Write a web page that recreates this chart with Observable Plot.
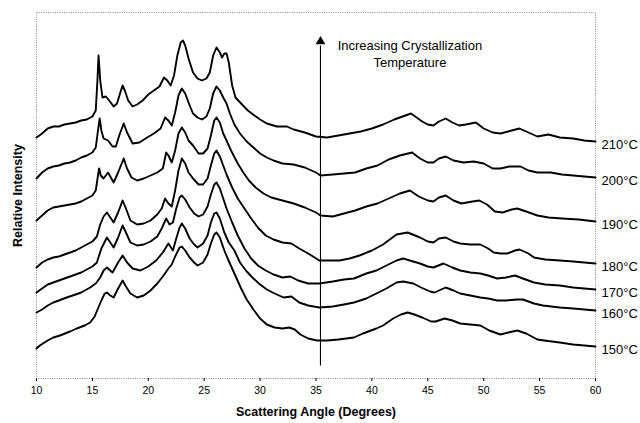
<!DOCTYPE html>
<html><head><meta charset="utf-8">
<script src="https://cdn.jsdelivr.net/npm/d3@7"></script>
<script src="https://cdn.jsdelivr.net/npm/@observablehq/plot@0.6"></script>
<style>body{margin:0;background:#fff;}</style>
</head><body><div id="chart"></div>
<script>
// Scattering angle (degrees) vs relative intensity (arbitrary units, curves offset)
const temps = ["210°C","200°C","190°C","180°C","170°C","160°C","150°C"];

const s210 = [[10,241],[10.5,245],[11,250],[11.5,252],[12,252],[12.5,254],[13,255],[13.5,256],[14,258],[14.5,259],[15,262],[15.3,268],[15.45,298],[15.55,323],[15.7,298],[15.9,281],[16.2,282],[16.5,278],[16.9,272],[17.2,275],[17.5,286],[17.7,293],[17.9,288],[18.2,278],[18.6,272],[19,274],[19.5,278],[20,284],[20.5,288],[21,292],[21.4,301],[21.7,298],[22,293],[22.3,303],[22.6,323],[22.9,336],[23.1,338],[23.3,333],[23.6,320],[24,306],[24.4,300],[24.8,298],[25.2,300],[25.5,306],[25.8,323],[26.1,331],[26.4,326],[26.6,321],[26.8,325],[27,325],[27.2,316],[27.5,293],[27.8,281],[28.3,275],[28.9,268],[29.5,263],[30,259],[30.6,255],[31.5,252],[32.4,252],[33,249],[34,246],[35,242],[36,241],[37,243],[38,245],[39,247],[40,250],[41,254],[42,259],[43,263],[43.5,265],[44,261],[44.5,257],[45,254],[45.5,253],[46,257],[46.6,260],[47.2,256],[47.8,253],[48.4,254],[49.3,256],[50,250],[50.8,246],[51.5,245],[52.5,248],[53.2,250],[54,246],[54.8,242],[55.8,244],[56.8,241],[58,240],[59,238],[60,237]];

const s200 = [[10,200],[10.5,206],[11,210],[11.5,212],[12,213],[12.5,215],[13,216],[13.5,218],[14,221],[14.5,223],[15,226],[15.3,231],[15.5,248],[15.65,260],[15.8,248],[16,240],[16.4,238],[16.8,232],[17.1,232],[17.4,243],[17.8,255],[18.1,246],[18.6,235],[19.2,236],[19.9,241],[20.5,245],[21.1,250],[21.5,261],[21.8,258],[22.1,253],[22.4,266],[22.7,283],[23,290],[23.3,285],[23.7,273],[24,265],[24.4,261],[24.8,259],[25.2,262],[25.5,270],[25.8,285],[26.1,292],[26.4,288],[26.7,281],[27,275],[27.3,265],[27.7,254],[28.2,245],[28.8,237],[29.4,231],[30,225],[30.6,221],[31.2,218],[32,215],[33,214],[34,211],[35,206],[35.4,203],[36.5,204],[37.5,205],[38.5,206],[39.5,210],[40.5,213],[41.5,219],[42.5,223],[43.6,226],[44.3,220],[45,216],[45.5,216],[46,220],[46.6,222],[47.3,218],[48.2,216],[49.1,217],[50,215],[50.8,210],[51.5,210],[52.3,212],[53.3,212],[54,208],[54.8,206],[56,206],[57,204],[58,203],[59,202],[60,201]];

const s190 = [[10,158],[10.5,163],[11,168],[11.5,171],[12,172],[12.5,173],[13,174],[13.5,175],[14,177],[14.5,180],[15,183],[15.3,188],[15.5,203],[15.6,210],[15.75,203],[16,200],[16.4,206],[16.9,196],[17.3,206],[17.8,220],[18.1,210],[18.5,201],[19,198],[19.6,200],[20.2,203],[20.8,206],[21.3,210],[21.6,226],[21.8,223],[22.1,216],[22.4,228],[22.7,245],[23,251],[23.3,246],[23.6,238],[24,233],[24.5,225],[24.9,225],[25.3,230],[25.6,243],[25.9,258],[26.1,261],[26.4,256],[26.7,245],[27,238],[27.4,228],[28,215],[28.5,206],[29,198],[29.6,191],[30.3,185],[31,181],[32,178],[33,175],[34,171],[35,166],[35.4,163],[36.5,162],[37.5,165],[38.5,168],[39.5,172],[40.5,175],[41.5,180],[42.5,185],[43.4,188],[44.2,182],[45,178],[45.5,177],[46,181],[46.6,183],[47.3,178],[48,175],[49,177],[49.6,178],[50.3,174],[51,167],[51.7,166],[52.5,169],[53,170],[53.8,167],[54.8,163],[55.8,161],[57,160],[58.5,159],[60,157]];

const s180 = [[10,111],[10.5,116],[11,119],[11.5,121],[12,122],[12.5,124],[13,126],[13.5,128],[14,131],[14.5,134],[15,137],[15.4,142],[15.7,154],[16,162],[16.3,166],[16.6,161],[16.9,156],[17.3,166],[17.7,178],[18,170],[18.4,158],[19,154],[19.6,155],[20.2,158],[20.8,164],[21.2,170],[21.5,180],[21.8,175],[22.1,172],[22.4,188],[22.7,208],[23,220],[23.3,215],[23.6,206],[24,200],[24.5,194],[24.9,194],[25.3,200],[25.6,213],[25.9,225],[26.1,228],[26.4,222],[26.7,213],[27,204],[27.5,191],[28,180],[28.6,170],[29.2,160],[29.8,151],[30.5,143],[31.2,139],[32,136],[32.8,135],[33.5,130],[34.3,125],[35.3,118],[36.3,118],[37.1,118],[38,120],[38.9,123],[40,128],[41,134],[42.2,144],[43.2,146],[44.3,141],[45,137],[45.5,136],[46,140],[46.6,141],[47.3,137],[47.9,135],[48.8,134],[49.7,134],[50.4,130],[50.9,126],[51.5,125],[52.1,125],[52.8,128],[53.2,129],[54,125],[54.5,121],[55.5,119],[56.8,118],[58,117],[59,116],[60,115]];

const s170 = [[10,86],[10.5,90],[11,94],[11.5,96],[12,98],[12.5,100],[13,102],[13.5,104],[14,106],[14.5,109],[15,112],[15.4,116],[15.8,130],[16.3,141],[16.6,136],[16.9,131],[17.3,141],[17.7,153],[18,146],[18.4,136],[19,133],[19.6,134],[20.2,137],[20.8,142],[21.2,150],[21.6,160],[21.9,154],[22.2,156],[22.5,170],[22.8,181],[23,183],[23.3,179],[23.7,171],[24.1,165],[24.5,162],[24.9,164],[25.3,172],[25.6,184],[25.9,194],[26.1,196],[26.4,190],[26.7,180],[27,170],[27.5,156],[28,143],[28.6,130],[29.2,120],[29.8,113],[30.5,108],[31.2,104],[32,101],[32.7,102],[33.4,98],[34.3,95],[35.3,95],[36.5,97],[37.5,99],[38.4,100],[39.5,105],[40.4,108],[41.3,113],[42.2,118],[42.8,120],[43.7,117],[44.3,115],[45,112],[45.5,111],[46.4,115],[47.2,111],[47.9,108],[48.8,106],[49.7,105],[50.4,103],[51.2,100],[52,101],[52.8,103],[53.5,100],[54.5,96],[55.5,94],[56.8,93],[58,91],[59,90],[60,89]];

const s160 = [[10,66],[10.5,69],[11,73],[11.5,76],[12,78],[12.7,81],[13.5,84],[14,86],[14.8,91],[15.3,95],[15.7,101],[16,108],[16.3,111],[16.8,106],[17.3,116],[17.7,123],[18.1,116],[18.6,110],[19.3,108],[20,112],[20.7,118],[21.3,126],[21.8,135],[22.2,128],[22.5,140],[22.8,151],[23,155],[23.3,150],[23.7,140],[24.1,134],[24.4,131],[24.9,135],[25.3,143],[25.6,156],[25.9,165],[26.1,166],[26.4,160],[26.8,146],[27.2,136],[27.7,128],[28.2,116],[28.8,107],[29.4,100],[30,94],[30.6,89],[31.3,85],[32.1,81],[32.8,82],[33.5,76],[34.3,73],[35.3,71],[36.5,72],[37.5,74],[38.4,76],[39.5,80],[40.4,85],[41.3,90],[42.2,96],[42.8,97],[43.7,95],[44.4,91],[45.2,87],[45.6,86],[46.4,90],[46.6,91],[47.3,88],[47.9,85],[48.8,83],[49.7,81],[50.4,80],[51.2,78],[52,78],[53,79],[53.5,79],[54.5,75],[55.3,73],[56.8,71],[58,70],[59,69],[60,68]];

const s150 = [[10,30],[10.3,33],[11,38],[11.5,41],[12.1,43],[13,47],[13.6,50],[14.3,53],[14.8,56],[15.2,62],[15.5,70],[15.8,78],[16.1,85],[16.3,86],[16.6,83],[16.9,81],[17.3,90],[17.7,98],[18,92],[18.4,85],[19,81],[19.6,83],[20.2,88],[20.8,95],[21.3,102],[21.8,110],[22.1,114],[22.4,122],[22.8,131],[23,132],[23.3,128],[23.7,121],[24.1,116],[24.4,113],[24.9,116],[25.3,124],[25.6,135],[25.9,144],[26.1,146],[26.4,141],[26.8,128],[27.1,120],[27.7,105],[28.3,90],[28.8,79],[29.4,69],[30,60],[30.6,54],[31.3,51],[32,50],[32.6,51],[33.1,49],[33.6,44],[34.3,40],[35.1,38],[36,38],[37,39],[38.4,41],[39.2,45],[40.4,50],[41,53],[41.9,60],[42.6,64],[43.2,66],[43.8,64],[44.5,61],[45.3,57],[45.7,57],[46.5,60],[47.2,58],[47.9,55],[48.8,54],[49.7,53],[50.5,48],[51.5,44],[52.2,46],[53,48],[53.8,45],[54.8,39],[55.4,38],[56.8,36],[58,34],[59,33],[60,32]];

const seriesValues = [s210, s200, s190, s180, s170, s160, s150];
const xTicks = [10, 15, 20, 25, 30, 35, 40, 45, 50, 55, 60];
const arrowAngle = 35.4, arrowFrom = 13, arrowTo = 337;
const noteAngle = 43.4, noteLevel = 325;
const noteText = "Increasing Crystallization\nTemperature";
const xTitle = "Scattering Angle (Degrees)";
const yTitle = "Relative Intensity";

const rows = seriesValues.flatMap((s, i) => s.map(([angle, intensity]) => ({temp: temps[i], angle, intensity})));

const chart = Plot.plot({
  width: 640,
  height: 423,
  marginLeft: 36,
  marginRight: 45,
  marginTop: 12,
  marginBottom: 45,
  style: {fontFamily: "'Liberation Sans', Arial, sans-serif", fontSize: "11px", color: "#000", background: "#fff"},
  x: {domain: [10, 60]},
  y: {domain: [0, 366], axis: null},
  marks: [
    Plot.frame({stroke: "#888", strokeDasharray: "1,1.3", strokeWidth: 1}),
    Plot.axisX({ticks: xTicks, tickSize: 3, tickPadding: 5, label: null, fontSize: 10.5}),
    Plot.lineY(rows, {x: "angle", y: "intensity", z: "temp", stroke: "#000", strokeWidth: 1.9, strokeLinejoin: "round", curve: "linear"}),
    Plot.text(rows, Plot.selectLast({x: "angle", y: "intensity", z: "temp", text: "temp", textAnchor: "start", dx: 6, dy: 3, fontSize: 13, fill: "#000"})),
    Plot.link({length: 1}, {x1: arrowAngle, x2: arrowAngle, y1: arrowFrom, y2: arrowTo - 4, stroke: "#000", strokeWidth: 1.1}),
    Plot.dot({length: 1}, {x: arrowAngle, y: arrowTo, symbol: "triangle", r: 3.6, fill: "#000", stroke: "none"}),
    Plot.text([noteText], {x: noteAngle, y: noteLevel, text: d => d, fontSize: 13, lineHeight: 1.3, fill: "#000"}),
    Plot.text([xTitle], {frameAnchor: "bottom", dy: 37, text: d => d, fontWeight: "bold", fontSize: 12.5, fill: "#000"}),
    Plot.text([yTitle], {frameAnchor: "left", dx: -19, rotate: -90, textAnchor: "middle", text: d => d, fontWeight: "bold", fontSize: 12.5, fill: "#000"})
  ]
});
document.getElementById("chart").append(chart);
</script>
</body></html>
